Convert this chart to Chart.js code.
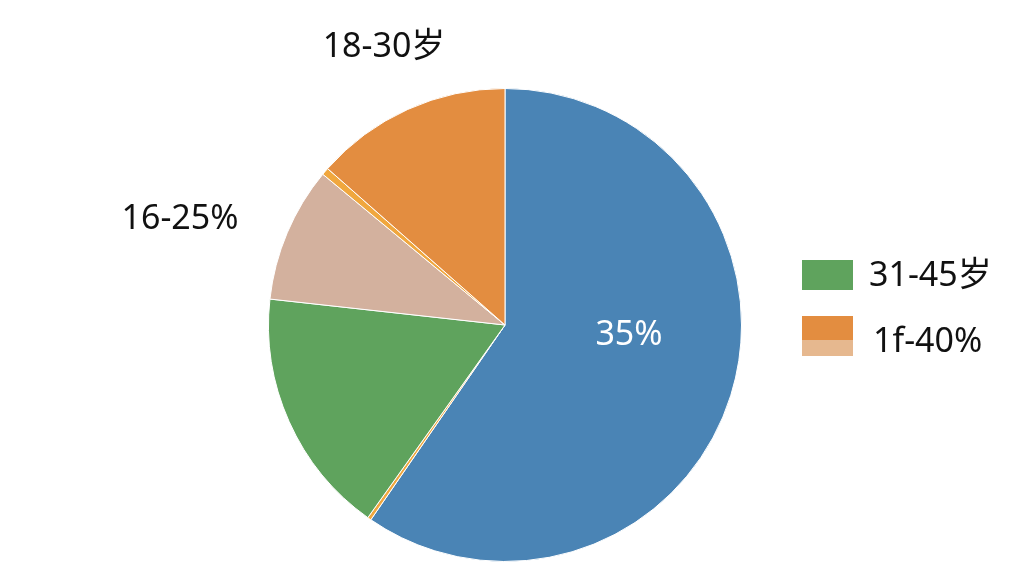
<html>
<head>
	<title>Pie</title>
	<style>
		body { margin: 0; background: #fff; }
		#wrap { position: relative; width: 1024px; height: 576px; }
	</style>
</head>
<body>
	<div id="wrap"><canvas id="chart" width="1024" height="576"></canvas></div>
	<script src="https://cdn.jsdelivr.net/npm/chart.js"></script>
	<script>
		const categories = ['35%', '', '31-45岁', '16-25%', '', '18-30岁'];
		const shares = [59.6, 0.25, 16.9, 9.25, 0.5, 13.5];
		const colors = ['#4a84b5', '#f0a73e', '#5fa35d', '#d3b19e', '#f0a73e', '#e38d40'];

		const FONT = '"Noto Sans", "Noto Sans CJK SC", sans-serif';

		// free labels and the little legend on the right
		const labelPlugin = {
			id: 'labels',
			afterDraw(chart) {
				const ctx = chart.ctx;
				ctx.save();
				ctx.font = '34px ' + FONT;
				ctx.textBaseline = 'middle';
				ctx.textAlign = 'center';
				ctx.fillStyle = '#111';
				ctx.fillText('18-30岁', 384, 47);
				ctx.fillText('16-25%', 180, 219);
				ctx.fillStyle = '#fff';
				ctx.fillText('35%', 629, 335);

				ctx.fillStyle = '#5fa35d';
				ctx.fillRect(802, 260, 51, 30);
				ctx.fillStyle = '#e38d40';
				ctx.fillRect(802, 316, 51, 25);
				ctx.fillStyle = '#e6b88f';
				ctx.fillRect(802, 340, 51, 16);

				ctx.textAlign = 'left';
				ctx.fillStyle = '#111';
				ctx.fillText('31-45岁', 869, 276);
				ctx.fillText('1f-40%', 873, 342);
				ctx.restore();
			}
		};

		new Chart(document.getElementById('chart'), {
			type: 'pie',
			data: {
				labels: categories,
				datasets: [{
					data: shares,
					backgroundColor: colors,
					borderColor: '#fff',
					borderWidth: 1
				}]
			},
			options: {
				responsive: false,
				animation: false,
				layout: { padding: { top: 88, bottom: 14, left: 268, right: 282 } },
				plugins: {
					legend: { display: false },
					tooltip: { enabled: false }
				}
			},
			plugins: [labelPlugin]
		});
	</script>
</body>
</html>
